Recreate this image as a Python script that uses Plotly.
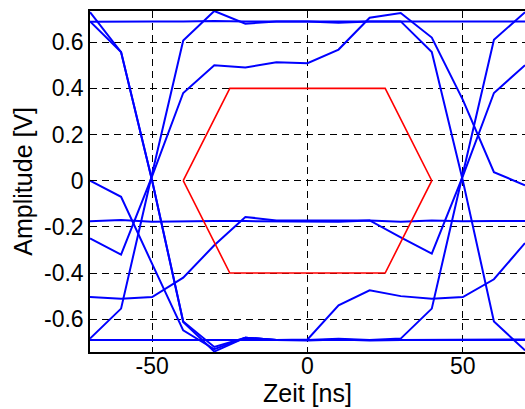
import plotly.graph_objects as go

# time samples (ns)
t = [-70, -60, -50, -40, -30, -20, -10, 0, 10, 20, 30, 40, 50, 60, 70]

# eye-diagram traces (V)
trace_high = [0.688, 0.690, 0.690, 0.690, 0.692, 0.690, 0.690, 0.692, 0.690, 0.690, 0.690, 0.690, 0.690, 0.690, 0.690]
trace_fall_a = [0.730, 0.557, 0.000, -0.610, -0.720, -0.680, -0.690, -0.690, -0.685, -0.690, -0.684, -0.554, 0.030, 0.610, 0.730]
trace_fall_b = [0.690, 0.557, 0.000, -0.612, -0.740, -0.680, -0.690, -0.688, -0.540, -0.475, -0.500, -0.511, -0.504, -0.427, -0.270]
trace_fall_c = [0.000, -0.070, -0.360, -0.648, -0.730, -0.680, -0.690, -0.692, -0.688, -0.692, -0.690, -0.690, -0.690, -0.690, -0.688]
trace_rise_a = [-0.684, -0.554, 0.030, 0.607, 0.735, 0.680, 0.690, 0.690, 0.684, 0.690, 0.690, 0.557, 0.000, -0.610, -0.735]
trace_rise_b = [-0.250, -0.320, 0.020, 0.380, 0.500, 0.490, 0.513, 0.509, 0.568, 0.706, 0.726, 0.620, 0.350, 0.037, -0.020]
trace_rise_c = [-0.504, -0.511, -0.504, -0.420, -0.280, -0.157, -0.172, -0.172, -0.174, -0.172, -0.245, -0.316, 0.020, 0.380, 0.500]
trace_mid = [-0.176, -0.170, -0.178, -0.175, -0.175, -0.175, -0.176, -0.176, -0.178, -0.172, -0.178, -0.172, -0.176, -0.175, -0.175]
trace_low = [-0.690, -0.690, -0.690, -0.690, -0.690, -0.690, -0.690, -0.690, -0.688, -0.690, -0.690, -0.690, -0.690, -0.690, -0.690]

traces = [trace_high, trace_fall_a, trace_fall_b, trace_fall_c, trace_rise_a,
          trace_rise_b, trace_rise_c, trace_mid, trace_low]

# eye mask (hexagon)
mask_t = [-40, -25, 25, 40, 25, -25, -40]
mask_v = [0, 0.4, 0.4, 0, -0.4, -0.4, 0]

x_ticks = [-50, 0, 50]
x_ticklabels = ["-50", "0", "50"]
y_ticks = [-0.6, -0.4, -0.2, 0, 0.2, 0.4, 0.6]
y_ticklabels = ["-0.6", "-0.4", "-0.2", "0", "0.2", "0.4", "0.6"]

FONT = "Liberation Sans, Arial, Helvetica, sans-serif"

fig = go.Figure()
for tr in traces:
    fig.add_trace(go.Scatter(x=t, y=tr, mode="lines",
                             line=dict(color="#0000ff", width=2),
                             showlegend=False, hoverinfo="skip"))
fig.add_trace(go.Scatter(x=mask_t, y=mask_v, mode="lines",
                         line=dict(color="#ff0000", width=1.6),
                         showlegend=False, hoverinfo="skip"))

axis_common = dict(
    showline=True, linecolor="black", linewidth=1.5,
    showgrid=True, gridcolor="black", gridwidth=1, griddash="7px,5px",
    zeroline=False, ticks="inside", ticklen=5, tickcolor="black", tickwidth=1,
    tickfont=dict(family=FONT, size=23, color="black"),
    automargin=False,
)

fig.update_layout(
    width=525, height=409,
    margin=dict(l=90, r=0, t=11, b=57),
    paper_bgcolor="white", plot_bgcolor="white",
    xaxis=dict(range=[-70, 70], tickvals=x_ticks, ticktext=x_ticklabels,
               mirror="ticks", ticklabelstandoff=-7, **axis_common),
    yaxis=dict(range=[-0.742, 0.735], tickvals=y_ticks, ticktext=y_ticklabels,
               mirror=False, ticklabelstandoff=0, **axis_common),
    annotations=[
        dict(text="Zeit [ns]", xref="paper", yref="paper", x=0.501, y=-0.12,
             xanchor="center", yanchor="middle", showarrow=False,
             font=dict(family=FONT, size=25, color="black")),
        dict(text="Amplitude [V]", xref="paper", yref="paper", x=-0.156, y=0.5,
             xanchor="center", yanchor="middle", textangle=-90, showarrow=False,
             font=dict(family=FONT, size=25, color="black")),
    ],
)

fig.write_html(
    "out.html",
    config={"displayModeBar": False},
    post_script="document.body.style.margin='0';document.body.style.overflow='hidden';",
)
